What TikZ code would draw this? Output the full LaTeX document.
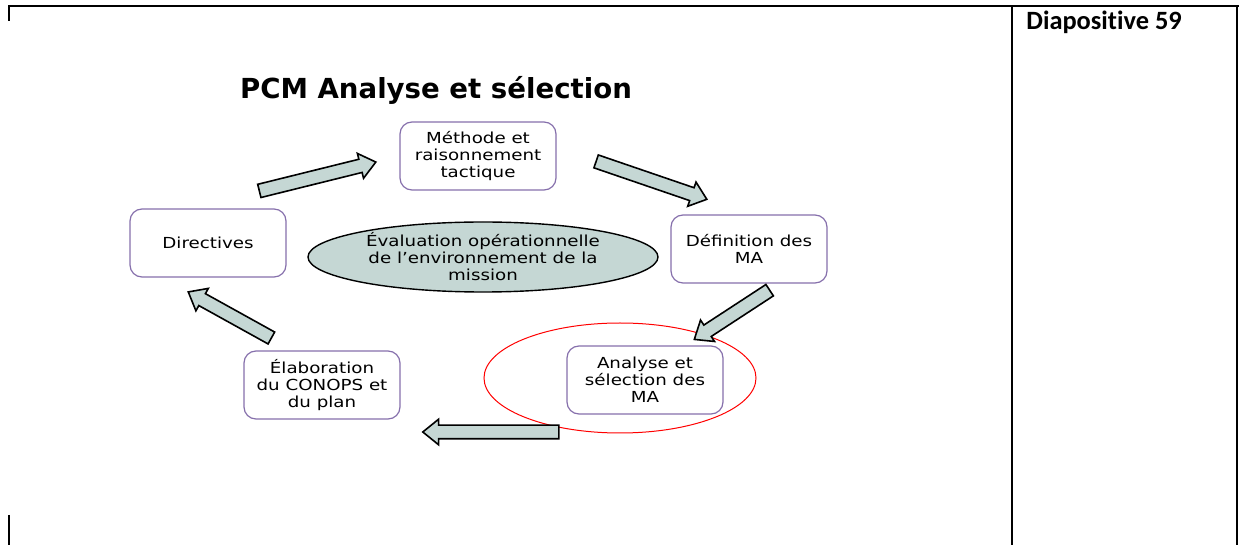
\documentclass[tikz,border=0pt]{standalone}
\usepackage{fontspec}
\setmainfont{DejaVu Sans}
\newfontfamily\largo[FakeStretch=1.2]{DejaVu Sans}
\newfontfamily\calibri[Ligatures=NoCommon]{Carlito}
\usetikzlibrary{shapes.geometric}
\usetikzlibrary{shapes.arrows}

\definecolor{bordoviola}{RGB}{134,112,172}
\definecolor{grigioverde}{RGB}{197,215,212}

\begin{document}
\begin{tikzpicture}[x=0.5pt,y=-0.5pt,align=center,
riquadro/.style={draw=bordoviola,fill=white,line width=0.6pt,rounded corners=6pt,minimum width=78pt,minimum height=34pt,font=\largo\fontsize{7.6}{8.5}\selectfont},
centro/.style={draw,ellipse,fill=grigioverde,line width=0.7pt,minimum width=175pt,minimum height=35pt,inner sep=0pt,font=\largo\fontsize{7.6}{8.5}\selectfont},
freccia/.style={draw,fill=grigioverde,line width=0.8pt,single arrow,single arrow head extend=3pt,single arrow tip angle=78,inner xsep=0pt,inner ysep=3pt,sloped,allow upside down},
linea/.style={line width=1pt}
]
\useasboundingbox (0,0) rectangle (1239,545);
% griglia della tabella
\draw[linea] (8,6) -- (1239,6);
\draw[linea] (9,6) -- (9,21);
\draw[linea] (9,515) -- (9,545);
\draw[linea] (1012,6) -- (1012,545);
\draw[linea] (1237,6) -- (1237,545);
\node[anchor=base west,inner xsep=0pt,font=\calibri\fontsize{13.2}{14}\selectfont\bfseries] (diap) at (1026,30) {Diapositive 59};
%--
\node[font=\fontsize{13.8}{15}\selectfont\bfseries] (titolo) at (436,90) {PCM Analyse et sélection};
%--
\node[draw=red,ellipse,line width=0.5pt,minimum width=136pt,minimum height=55pt] (cerchio) at (620,378) {};
\node[centro] (valut) at (483,257) {Évaluation opérationnelle\\de l’environnement de la\\mission};
%--
\node[riquadro] (metodo) at (478,156) {Méthode et\\raisonnement\\tactique};
\node[riquadro] (defin) at (749,249) {Définition des\\MA};
\node[riquadro] (analisi) at (645,380) {Analyse et\\sélection des\\MA};
\node[riquadro] (elab) at (322,385) {Élaboration\\du CONOPS  et\\du plan};
\node[riquadro] (dirett) at (208,243) {Directives};
%--
\coordinate (c1) at (255,192); \coordinate (p1) at (372,163);
\coordinate (c2) at (592,160); \coordinate (p2) at (703,198);
\coordinate (c3) at (773,288); \coordinate (p3) at (698,337);
\coordinate (c4) at (563,432); \coordinate (p4) at (427,432);
\coordinate (c5) at (275,340); \coordinate (p5) at (192,294);
\path (c1) -- node[freccia,minimum height=60pt] (f1) {} (p1);
\path (c2) -- node[freccia,minimum height=58.5pt] (f2) {} (p2);
\path (c3) -- node[freccia,minimum height=45pt] (f3) {} (p3);
\path (c4) -- node[freccia,minimum height=68pt] (f4) {} (p4);
\path (c5) -- node[freccia,minimum height=47.5pt] (f5) {} (p5);
\end{tikzpicture}
\end{document}
